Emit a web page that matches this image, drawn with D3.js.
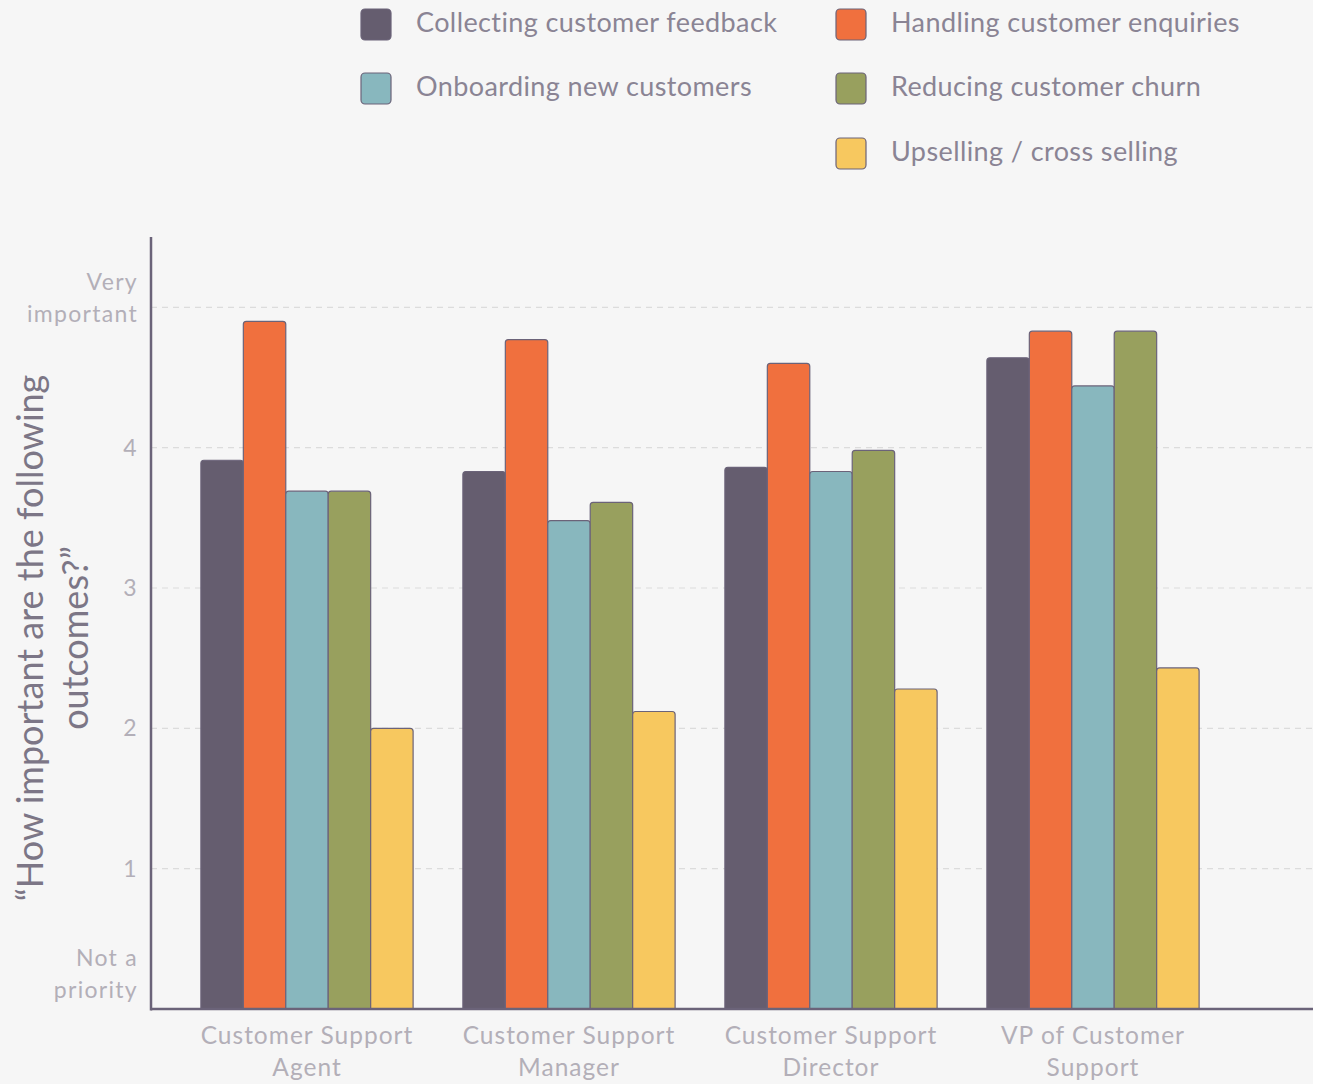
<!DOCTYPE html>
<html>
<head>
<meta charset="utf-8">
<script src="https://cdn.jsdelivr.net/npm/d3@7"></script>
<style>
  html, body { margin: 0; padding: 0; background: #ffffff; }
  svg { display: block; }
  text { font-family: Lato, "Open Sans", sans-serif; }
</style>
</head>
<body>
<svg id="chart" width="1313" height="1084"></svg>
<script>
// Roles surveyed (x categories), each drawn as two label lines
const roles = ["Customer Support Agent", "Customer Support Manager", "Customer Support Director", "VP of Customer Support"];
const roleLines = [["Customer Support", "Agent"], ["Customer Support", "Manager"], ["Customer Support", "Director"], ["VP of Customer", "Support"]];

// Outcome series and their average importance ratings per role
const outcomes = ["Collecting customer feedback", "Handling customer enquiries", "Onboarding new customers", "Reducing customer churn", "Upselling / cross selling"];
const feedback   = [3.91, 3.83, 3.86, 4.64];
const enquiries  = [4.90, 4.77, 4.60, 4.83];
const onboarding = [3.69, 3.48, 3.83, 4.44];
const churn      = [3.69, 3.61, 3.98, 4.83];
const upselling  = [2.00, 2.12, 2.28, 2.43];
const seriesValues = [feedback, enquiries, onboarding, churn, upselling];

// Y tick labels
const yTicks = [0, 1, 2, 3, 4, 5];
const yTickLabels = [["Not a", "priority"], ["1"], ["2"], ["3"], ["4"], ["Very", "important"]];

const colors = ["#655d6f", "#f0703e", "#88b7be", "#98a05e", "#f7c85f"];
const strokeCol = "#6b6379";

const svg = d3.select("#chart");
svg.append("rect").attr("width", 1313).attr("height", 1084).attr("fill", "#f6f6f6");

const axisX0 = 151, axisX1 = 1313, axisTop = 237;

const y = d3.scaleLinear().domain([0, 5]).range([1009, 307.3]);
const x0 = d3.scaleBand().domain(roles).range([176, 1224]).paddingInner(0.19).paddingOuter(0.095);
const x1 = d3.scaleBand().domain(outcomes).range([0, x0.bandwidth()]).padding(0);
const color = d3.scaleOrdinal().domain(outcomes).range(colors);

// dashed gridlines
svg.append("g").selectAll("line")
  .data(yTicks.filter(d => d > 0))
  .join("line")
  .attr("x1", axisX0).attr("x2", axisX1)
  .attr("y1", d => y(d)).attr("y2", d => y(d))
  .attr("stroke", "#dcdcdc").attr("stroke-width", 1.2)
  .attr("stroke-dasharray", "6,5");

// bars with rounded top corners
function barPath(x, yTop, w, yBase, r) {
  return `M${x},${yBase}V${yTop + r}Q${x},${yTop} ${x + r},${yTop}H${x + w - r}Q${x + w},${yTop} ${x + w},${yTop + r}V${yBase}Z`;
}
const rows = [];
roles.forEach((role, i) => {
  outcomes.forEach((o, j) => rows.push({ role, outcome: o, value: seriesValues[j][i] }));
});
svg.append("g").selectAll("path")
  .data(rows)
  .join("path")
  .attr("d", d => barPath(x0(d.role) + x1(d.outcome), y(d.value), x1.bandwidth(), y(0), 3))
  .attr("fill", d => color(d.outcome))
  .attr("stroke", strokeCol)
  .attr("stroke-width", 1.2);

// axes lines
svg.append("line").attr("x1", axisX0).attr("x2", axisX0).attr("y1", axisTop).attr("y2", y(0) + 1.5)
  .attr("stroke", strokeCol).attr("stroke-width", 2.5);
svg.append("line").attr("x1", axisX0).attr("x2", axisX1).attr("y1", y(0)).attr("y2", y(0))
  .attr("stroke", strokeCol).attr("stroke-width", 2.5);

// y tick labels
const tickG = svg.append("g");
yTicks.forEach((t, i) => {
  const lines = yTickLabels[i];
  const txt = tickG.append("text")
    .attr("x", 138).attr("text-anchor", "end")
    .attr("fill", "#b3afb8").attr("font-size", 23)
    .attr("letter-spacing", "1.3px");
  if (lines.length === 1) {
    txt.attr("y", y(t) + 8).text(lines[0]);
  } else {
    const offs = t === 0 ? [-43, -11] : [-17, 15];
    lines.forEach((l, k) => txt.append("tspan").attr("x", 138).attr("y", y(t) + offs[k]).text(l));
  }
});

// x category labels
const xg = svg.append("g");
roles.forEach((r, i) => {
  const cx = x0(r) + x0.bandwidth() / 2;
  roleLines[i].forEach((l, k) => {
    xg.append("text").attr("x", cx).attr("y", 1044 + k * 32)
      .attr("text-anchor", "middle").attr("fill", "#b3afb8").attr("font-size", 24.5)
      .attr("letter-spacing", "1px").text(l);
  });
});

// y axis title
const title = svg.append("text")
  .attr("transform", "rotate(-90)")
  .attr("text-anchor", "middle")
  .attr("fill", "#7c7686").attr("font-size", 36);
title.append("tspan").attr("x", -638).attr("y", 43).text("\u201CHow important are the following");
title.append("tspan").attr("x", -638).attr("y", 88).text("outcomes?\u201D");

// legend
const legendPos = [[361, 9], [836, 9], [361, 73], [836, 73], [836, 138]];
const lg = svg.append("g");
outcomes.forEach((o, i) => {
  const [lx, ly] = legendPos[i];
  lg.append("rect").attr("x", lx).attr("y", ly).attr("width", 30).attr("height", 31)
    .attr("rx", 4).attr("fill", color(o)).attr("stroke", strokeCol).attr("stroke-width", 1.2);
  lg.append("text").attr("x", lx + 55).attr("y", ly + 23)
    .attr("fill", "#8a8494").attr("font-size", 27).attr("letter-spacing", "0.4px").text(o);
});
</script>
</body>
</html>
